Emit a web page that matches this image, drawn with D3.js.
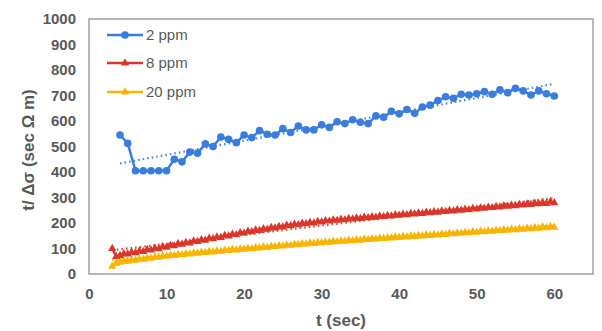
<!DOCTYPE html>
<html>
<head>
<meta charset="utf-8">
<script src="https://cdn.jsdelivr.net/npm/d3@7"></script>
<style>
  body { margin: 0; background: #fff; }
  svg { display: block; font-family: "Liberation Sans", Arial, sans-serif; }
</style>
</head>
<body>
<div id="chart"></div>
<script>
// 2 ppm, one reading per second from t = 4
var blueStart = 4, blueStep = 1;
var blue2ppm = [545, 512, 405, 405, 405, 405, 405, 450, 440, 478, 474, 510, 500, 537, 528,
  515, 545, 535, 562, 548, 545, 570, 555, 580, 565, 565, 585, 575, 597, 590, 605, 595,
  590, 620, 615, 638, 628, 645, 630, 655, 662, 680, 695, 689, 705, 702, 707, 715, 705,
  722, 711, 728, 718, 702, 718, 707, 698];

// 8 ppm and 20 ppm, one reading every half second from t = 3
var halfStart = 3, halfStep = 0.5;
var red8ppm = [100, 68, 72, 79, 78, 85, 83, 90, 88, 96, 94, 101, 99, 107, 105, 112, 110,
  118, 116, 123, 121, 129, 127, 134, 132, 140, 138, 145, 143, 151, 149, 156, 154, 162,
  160, 167, 165, 172, 170, 177, 175, 182, 180, 186, 184, 191, 189, 195, 193, 199, 197,
  202, 200, 206, 204, 209, 207, 212, 210, 214, 212, 217, 215, 219, 217, 222, 220, 224,
  222, 227, 225, 229, 227, 232, 230, 234, 232, 237, 235, 239, 237, 242, 240, 244, 242,
  247, 245, 249, 247, 252, 250, 254, 252, 257, 255, 259, 257, 262, 260, 264, 262, 267,
  265, 269, 267, 272, 270, 274, 272, 277, 275, 280, 276, 283, 279];
var yellow20ppm = [30, 42, 46, 51, 50, 55, 54, 58, 57, 62, 61, 66, 65, 70, 69, 73, 72, 76,
  75, 79, 78, 82, 81, 85, 84, 88, 86, 90, 89, 93, 92, 96, 94, 98, 97, 101, 99, 103, 102,
  106, 104, 108, 107, 111, 109, 113, 112, 116, 114, 118, 117, 121, 119, 123, 122, 125,
  124, 127, 126, 129, 128, 132, 130, 134, 132, 136, 135, 138, 137, 140, 139, 142, 141,
  145, 143, 147, 145, 149, 147, 151, 149, 153, 151, 155, 153, 157, 155, 159, 157, 161,
  159, 163, 161, 165, 163, 167, 165, 169, 167, 171, 169, 173, 171, 175, 173, 177, 175,
  179, 177, 181, 179, 184, 181, 186, 183];

var seriesNames = ["2 ppm", "8 ppm", "20 ppm"];
var seriesColors = ["#3b7ddd", "#d9372b", "#f7b500"];
var xTicks = [0, 10, 20, 30, 40, 50, 60];
var yTicks = [0, 100, 200, 300, 400, 500, 600, 700, 800, 900, 1000];

var width = 602, height = 331;
var plot = {left: 89, right: 593, top: 19, bottom: 274};

var svg = d3.select("#chart").append("svg")
  .attr("width", width)
  .attr("height", height);

var x = d3.scaleLinear().domain([0, 65]).range([plot.left, plot.right]);
var y = d3.scaleLinear().domain([0, 1000]).range([plot.bottom, plot.top]);

function toPoints(values, start, step) {
  return values.map(function (v, i) { return {t: start + i * step, v: v}; });
}

var series = [
  {name: seriesNames[0], color: seriesColors[0], pts: toPoints(blue2ppm, blueStart, blueStep), marker: "circle"},
  {name: seriesNames[1], color: seriesColors[1], pts: toPoints(red8ppm, halfStart, halfStep), marker: "triangle"},
  {name: seriesNames[2], color: seriesColors[2], pts: toPoints(yellow20ppm, halfStart, halfStep), marker: "triangle"}
];

// plot frame
svg.append("rect")
  .attr("x", plot.left).attr("y", plot.top)
  .attr("width", plot.right - plot.left).attr("height", plot.bottom - plot.top)
  .attr("fill", "none").attr("stroke", "#a0a0a0").attr("stroke-width", 1.5);

// axes (labels only)
var yAxis = svg.append("g")
  .attr("transform", "translate(" + plot.left + ",0)")
  .call(d3.axisLeft(y).tickValues(yTicks).tickFormat(d3.format("d")).tickSize(0).tickPadding(13));
var xAxis = svg.append("g")
  .attr("transform", "translate(0," + plot.bottom + ")")
  .call(d3.axisBottom(x).tickValues(xTicks).tickFormat(d3.format("d")).tickSize(0).tickPadding(14));
[xAxis, yAxis].forEach(function (g) {
  g.select(".domain").remove();
  g.selectAll("text")
    .attr("fill", "#595959")
    .style("font-size", "15px")
    .style("font-weight", "bold")
    .style("font-family", "'Liberation Sans', Arial, sans-serif");
});

var line = d3.line()
  .x(function (d) { return x(d.t); })
  .y(function (d) { return y(d.v); });

var tri = d3.symbol().type(d3.symbolTriangle).size(30);
var dot = d3.symbol().type(d3.symbolCircle).size(46);

function drawMarkers(g, s, pts) {
  g.selectAll("path.m")
    .data(pts)
    .enter().append("path")
    .attr("class", "m")
    .attr("d", s.marker == "circle" ? dot : tri)
    .attr("transform", function (d) { return "translate(" + x(d.t) + "," + y(d.v) + ")"; })
    .attr("fill", s.color);
}

// series (yellow first so blue sits on top)
series.slice().reverse().forEach(function (s) {
  var g = svg.append("g");
  g.append("path")
    .datum(s.pts)
    .attr("d", line)
    .attr("fill", "none")
    .attr("stroke", s.color)
    .attr("stroke-width", 2.5);
  drawMarkers(g, s, s.pts);
});

// linear trendlines
series.forEach(function (s) {
  var n = s.pts.length;
  var mt = d3.mean(s.pts, function (d) { return d.t; });
  var mv = d3.mean(s.pts, function (d) { return d.v; });
  var num = d3.sum(s.pts, function (d) { return (d.t - mt) * (d.v - mv); });
  var den = d3.sum(s.pts, function (d) { return (d.t - mt) * (d.t - mt); });
  var b = num / den, a = mv - b * mt;
  var t0 = s.pts[0].t, t1 = s.pts[n - 1].t;
  svg.append("line")
    .attr("x1", x(t0)).attr("y1", y(a + b * t0))
    .attr("x2", x(t1)).attr("y2", y(a + b * t1))
    .attr("stroke", s.color)
    .attr("stroke-width", 2.2)
    .attr("stroke-dasharray", "1.6,3")
    .attr("opacity", 0.9);
});

// legend
var legend = svg.append("g");
var legendY = [35, 63, 92];
series.forEach(function (s, i) {
  var row = legend.append("g").attr("transform", "translate(0," + legendY[i] + ")");
  row.append("line")
    .attr("x1", 107).attr("x2", 143)
    .attr("stroke", s.color).attr("stroke-width", 2.5);
  row.append("path")
    .attr("d", s.marker == "circle" ? dot : tri)
    .attr("transform", "translate(125,0)")
    .attr("fill", s.color);
  row.append("text")
    .attr("x", 146).attr("dy", "0.35em")
    .attr("fill", "#595959")
    .style("font-size", "15px")
    .text(s.name);
});

// axis titles
svg.append("text")
  .attr("x", 341).attr("y", 320).attr("dy", "0.35em")
  .attr("text-anchor", "middle")
  .attr("fill", "#595959")
  .style("font-size", "17px").style("font-weight", "bold")
  .text("t (sec)");
svg.append("text")
  .attr("transform", "translate(28,150) rotate(-90)")
  .attr("dy", "0.35em")
  .attr("text-anchor", "middle")
  .attr("fill", "#595959")
  .style("font-size", "17px").style("font-weight", "bold")
  .text("t/ \u0394\u03c3 (sec \u03a9 m)");
</script>
</body>
</html>
